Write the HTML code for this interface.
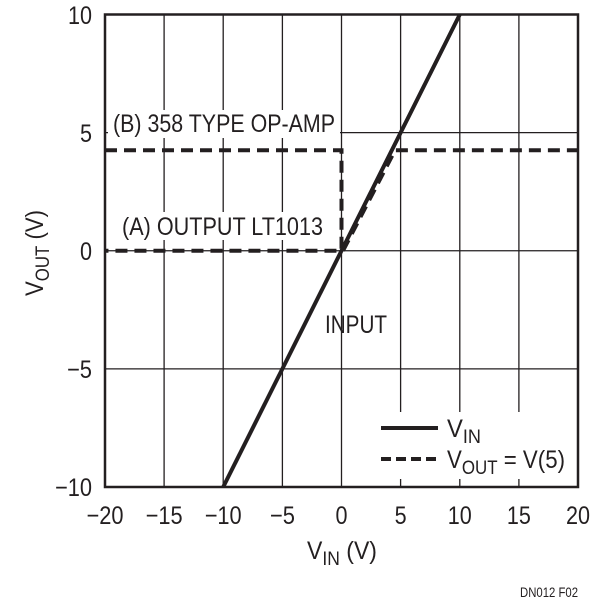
<!DOCTYPE html>
<html><head><style>
html,body{margin:0;padding:0;background:#fff;}
svg text{font-family:"Liberation Sans",sans-serif;fill:#231f20;}
</style></head><body>
<svg width="601" height="611" viewBox="0 0 601 611" xmlns="http://www.w3.org/2000/svg">
<g stroke="#231f20" stroke-width="1.3" fill="none">
<line x1="164.1" y1="14.5" x2="164.1" y2="487"/>
<line x1="223.2" y1="14.5" x2="223.2" y2="487"/>
<line x1="282.4" y1="14.5" x2="282.4" y2="487"/>
<line x1="341.5" y1="14.5" x2="341.5" y2="487"/>
<line x1="400.6" y1="14.5" x2="400.6" y2="412"/>
<line x1="459.8" y1="14.5" x2="459.8" y2="412"/>
<line x1="518.9" y1="14.5" x2="518.9" y2="412"/>
<line x1="400.6" y1="479" x2="400.6" y2="487"/>
<line x1="459.8" y1="479" x2="459.8" y2="487"/>
<line x1="518.9" y1="479" x2="518.9" y2="487"/>
<line x1="105" y1="132.6" x2="578" y2="132.6"/>
<line x1="105" y1="250.75" x2="578" y2="250.75"/>
<line x1="105" y1="368.9" x2="578" y2="368.9"/>
</g>
<rect x="108" y="110" width="232" height="28" fill="#fff"/>
<rect x="118" y="212" width="208" height="28" fill="#fff"/>
<rect x="345" y="413" width="230" height="66" fill="#fff"/>
<rect x="105" y="14.5" width="473" height="472.5" fill="none" stroke="#231f20" stroke-width="2.5"/>
<line x1="223.2" y1="487" x2="459.8" y2="14.5" stroke="#231f20" stroke-width="4"/>
<path d="M105 150.3 H341.5 V250.75 H105" fill="none" stroke="#231f20" stroke-width="4" stroke-dasharray="12,7"/>
<path d="M343 250.75 L395 150.3 H578" fill="none" stroke="#231f20" stroke-width="4" stroke-dasharray="12,7"/>
<g font-size="25" text-anchor="middle" lengthAdjust="spacingAndGlyphs">
<text x="105" y="524" textLength="37" lengthAdjust="spacingAndGlyphs">−20</text>
<text x="164.1" y="524" textLength="37" lengthAdjust="spacingAndGlyphs">−15</text>
<text x="223.2" y="524" textLength="37" lengthAdjust="spacingAndGlyphs">−10</text>
<text x="282.4" y="524" textLength="25" lengthAdjust="spacingAndGlyphs">−5</text>
<text x="341.5" y="524" textLength="12" lengthAdjust="spacingAndGlyphs">0</text>
<text x="400.6" y="524" textLength="12" lengthAdjust="spacingAndGlyphs">5</text>
<text x="459.8" y="524" textLength="24" lengthAdjust="spacingAndGlyphs">10</text>
<text x="518.9" y="524" textLength="24" lengthAdjust="spacingAndGlyphs">15</text>
<text x="578" y="524" textLength="24" lengthAdjust="spacingAndGlyphs">20</text>
</g>
<g font-size="25" text-anchor="end">
<text x="92" y="24" textLength="24" lengthAdjust="spacingAndGlyphs">10</text>
<text x="92" y="142" textLength="12" lengthAdjust="spacingAndGlyphs">5</text>
<text x="92" y="260" textLength="12" lengthAdjust="spacingAndGlyphs">0</text>
<text x="92" y="378" textLength="25" lengthAdjust="spacingAndGlyphs">−5</text>
<text x="92" y="496" textLength="37" lengthAdjust="spacingAndGlyphs">−10</text>
</g>
<text x="307" y="559" font-size="25" textLength="70" lengthAdjust="spacingAndGlyphs">V<tspan font-size="19" dy="6">IN</tspan><tspan dy="-6"> (V)</tspan></text>
<text transform="translate(43,296) rotate(-90)" font-size="25" textLength="86" lengthAdjust="spacingAndGlyphs">V<tspan font-size="19" dy="6">OUT</tspan><tspan dy="-6"> (V)</tspan></text>
<text x="113" y="132" font-size="25" textLength="222" lengthAdjust="spacingAndGlyphs">(B) 358 TYPE OP-AMP</text>
<text x="122" y="235" font-size="25" textLength="201" lengthAdjust="spacingAndGlyphs">(A) OUTPUT LT1013</text>
<text x="325" y="333" font-size="25" textLength="62" lengthAdjust="spacingAndGlyphs">INPUT</text>
<line x1="381" y1="428" x2="438" y2="428" stroke="#231f20" stroke-width="4"/>
<line x1="381" y1="459" x2="438" y2="459" stroke="#231f20" stroke-width="4" stroke-dasharray="10,5"/>
<text x="447" y="437" font-size="25" textLength="34" lengthAdjust="spacingAndGlyphs">V<tspan font-size="19" dy="6">IN</tspan></text>
<text x="447" y="468" font-size="25" textLength="118" lengthAdjust="spacingAndGlyphs">V<tspan font-size="19" dy="6">OUT</tspan><tspan dy="-6"> = V(5)</tspan></text>
<text x="520" y="597" font-size="14" textLength="58" lengthAdjust="spacingAndGlyphs">DN012 F02</text>
</svg>
</body></html>
